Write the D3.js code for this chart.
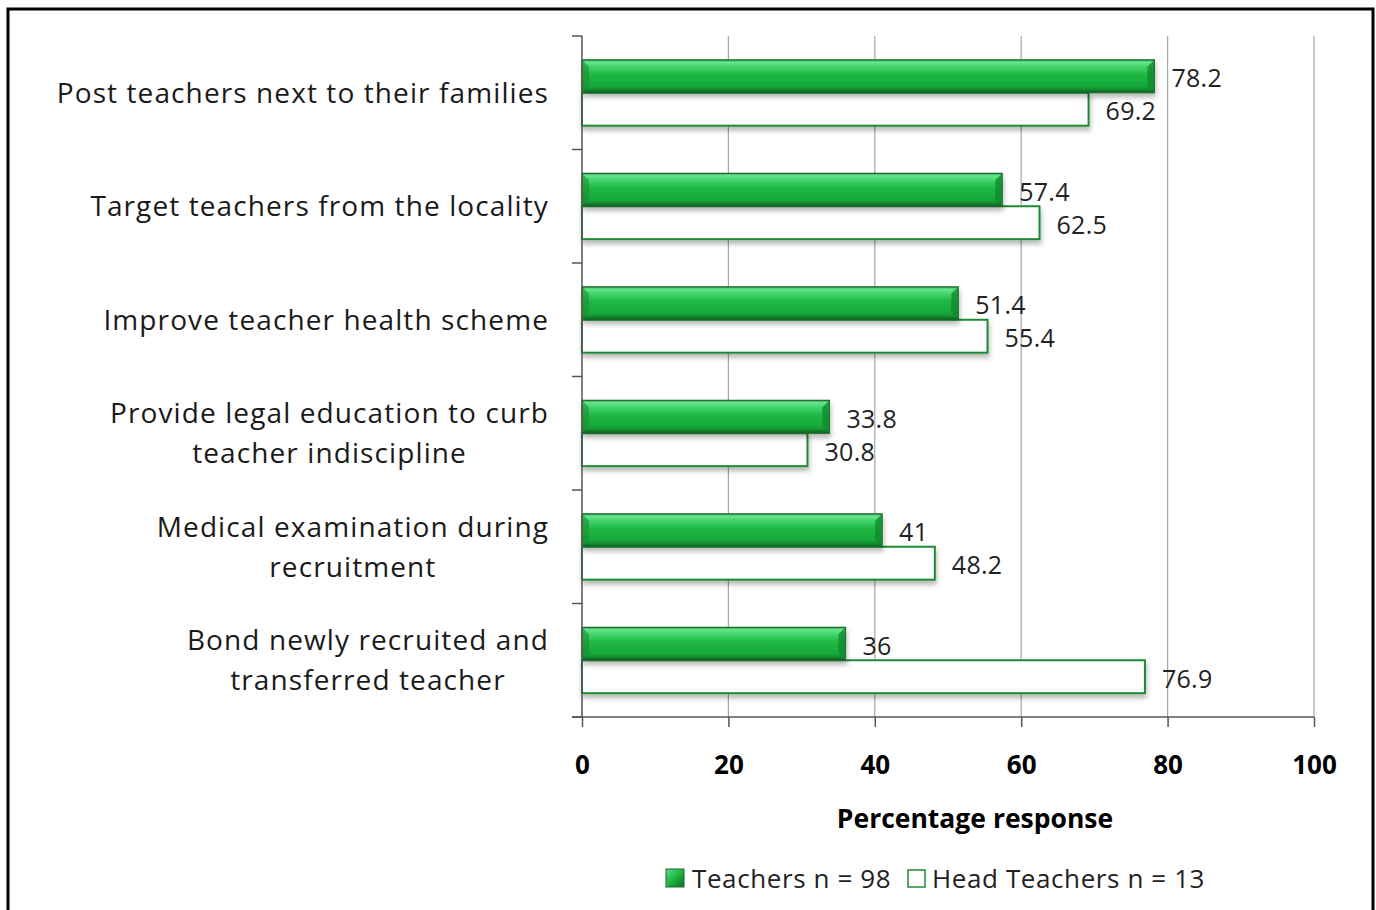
<!DOCTYPE html>
<html><head><meta charset="utf-8">
<script src="https://cdn.jsdelivr.net/npm/d3@7"></script>
<style>
html,body{margin:0;padding:0;background:#fff;}
svg{display:block;}
</style></head>
<body>
<script>
const categories = [
  ["Post teachers next to their families"],
  ["Target teachers from the locality"],
  ["Improve teacher health scheme"],
  ["Provide legal education to curb", "teacher indiscipline"],
  ["Medical examination during", "recruitment"],
  ["Bond newly recruited and", "transferred teacher"]
];
const teachers = [78.2, 57.4, 51.4, 33.8, 41, 36];
const headTeachers = [69.2, 62.5, 55.4, 30.8, 48.2, 76.9];
const seriesNames = ["Teachers n = 98", "Head Teachers n = 13"];
const xTicks = [0, 20, 40, 60, 80, 100];
const axisTitle = "Percentage response";

const W = 1376, H = 910;
const svg = d3.select("body").append("svg").attr("width", W).attr("height", H);
const defs = svg.append("defs");

const grad = defs.append("linearGradient").attr("id","gbar").attr("x1",0).attr("y1",0).attr("x2",0).attr("y2",1);
[[0,"#2f9a46"],[0.07,"#66e690"],[0.2,"#45d56c"],[0.45,"#1db843"],[0.8,"#17a83a"],[0.9,"#138a2e"],[1,"#0f5e22"]]
  .forEach(([o,c])=>grad.append("stop").attr("offset",o).attr("stop-color",c));
const lg = defs.append("linearGradient").attr("id","glegend").attr("x1",0).attr("y1",0).attr("x2",1).attr("y2",1);
[[0,"#5fe088"],[0.5,"#1bb441"],[1,"#0f6a24"]].forEach(([o,c])=>lg.append("stop").attr("offset",o).attr("stop-color",c));

const sh = defs.append("filter").attr("id","shadow").attr("x","-5%").attr("y","-30%").attr("width","115%").attr("height","180%");
sh.append("feDropShadow").attr("dx",1).attr("dy",4).attr("stdDeviation",2.5).attr("flood-color","#000").attr("flood-opacity",0.28);

// frame
svg.append("rect").attr("x",8).attr("y",9).attr("width",1365).attr("height",920)
  .attr("fill","none").attr("stroke","#000").attr("stroke-width",3);

const x = d3.scaleLinear().domain([0,100]).range([582,1314]);
const y = d3.scaleBand().domain(d3.range(categories.length)).range([36,717]).paddingInner(0.42).paddingOuter(0.21);
const ySub = d3.scaleBand().domain([0,1]).range([0,y.bandwidth()]);

// gridlines
svg.append("g").selectAll("line").data(xTicks.slice(1)).join("line")
  .attr("x1",d=>x(d)).attr("x2",d=>x(d)).attr("y1",36).attr("y2",717)
  .attr("stroke","#a6a6a6").attr("stroke-width",1.2);

// bars
const g = svg.append("g");
categories.forEach((c,i)=>{
  const y0 = y(i);
  const bh = ySub.bandwidth();
  g.append("rect").attr("x",x(0)).attr("y",y0+ySub(1)).attr("width",x(headTeachers[i])-x(0)).attr("height",bh)
    .attr("fill","#fff").attr("stroke","#1f8a32").attr("stroke-width",2).attr("filter","url(#shadow)");
  const tx = x(0), tw = x(teachers[i])-x(0), ty = y0+ySub(0);
  g.append("rect").attr("x",tx).attr("y",ty).attr("width",tw).attr("height",bh)
    .attr("fill","url(#gbar)").attr("stroke","#1a6b2b").attr("stroke-width",1.2).attr("filter","url(#shadow)");
  const b = 7;
  g.append("path").attr("d",`M${tx+tw},${ty} L${tx+tw-b},${ty+b} L${tx+tw-b},${ty+bh-b} L${tx+tw},${ty+bh} Z`)
    .attr("fill","#138a2e").attr("opacity",0.8);
  g.append("path").attr("d",`M${tx},${ty} L${tx+b},${ty+b} L${tx+b},${ty+bh-b} L${tx},${ty+bh} Z`)
    .attr("fill","#1a8f33").attr("opacity",0.6);
  g.append("text").attr("x",x(teachers[i])+17).attr("y",ty+bh/2+1).attr("dominant-baseline","central")
    .attr("font-family","Open Sans").attr("font-size",25).attr("letter-spacing",0.3).attr("fill","#222").text(teachers[i]);
  g.append("text").attr("x",x(headTeachers[i])+17).attr("y",y0+ySub(1)+bh/2+1).attr("dominant-baseline","central")
    .attr("font-family","Open Sans").attr("font-size",25).attr("letter-spacing",0.3).attr("fill","#222").text(headTeachers[i]);
});

// y axis line and ticks
const ax = svg.append("g").attr("stroke","#555").attr("stroke-width",1.5);
ax.append("line").attr("x1",582).attr("x2",582).attr("y1",36).attr("y2",717);
ax.selectAll(".yt").data(d3.range(categories.length+1)).join("line")
  .attr("x1",572).attr("x2",582).attr("y1",d=>36+d*y.step()).attr("y2",d=>36+d*y.step());
// x axis
svg.append("g").attr("transform","translate(0,717)")
  .call(d3.axisBottom(x).tickValues(xTicks).tickSize(10).tickSizeOuter(0).tickPadding(29))
  .call(s=>{
    s.select(".domain").attr("stroke","#555").attr("stroke-width",1.5).attr("d","M572,0H1314");
    s.selectAll(".tick line").attr("stroke","#555").attr("stroke-width",1.5);
    s.selectAll(".tick text").attr("font-family","Open Sans").attr("font-weight","bold").attr("font-size",26).attr("fill","#000");
  });

// category labels
const catG = svg.append("g").attr("font-family","Open Sans").attr("font-size",28).attr("letter-spacing",1.1).attr("fill","#1a1a1a");
categories.forEach((lines,i)=>{
  const cy = y(i)+y.bandwidth()/2 - 1;
  const t = catG.append("text").attr("text-anchor","middle");
  lines.forEach((ln,k)=>{
    t.append("tspan").attr("x",0).attr("y",cy + (k-(lines.length-1)/2)*40).attr("dominant-baseline","central").text(ln);
  });
  const w = t.node().getBBox().width;
  t.selectAll("tspan").attr("x",549 - w/2);
});

// axis title
svg.append("text").attr("x",975).attr("y",818).attr("text-anchor","middle").attr("dominant-baseline","central")
  .attr("font-family","Open Sans").attr("font-weight","bold").attr("font-size",26.5).attr("fill","#000").text(axisTitle);

// legend
const leg = svg.append("g").attr("font-family","Open Sans").attr("font-size",26).attr("letter-spacing",0.6).attr("fill","#222");
leg.append("rect").attr("x",666).attr("y",869).attr("width",18).attr("height",18).attr("fill","url(#glegend)").attr("stroke","#1a6b2b");
leg.append("text").attr("x",692).attr("y",878).attr("dominant-baseline","central").text(seriesNames[0]);
leg.append("rect").attr("x",908).attr("y",870).attr("width",17).attr("height",17).attr("fill","#fff").attr("stroke","#1f8a32").attr("stroke-width",1.5);
leg.append("text").attr("x",932).attr("y",878).attr("dominant-baseline","central").text(seriesNames[1]);
</script>
</body></html>
